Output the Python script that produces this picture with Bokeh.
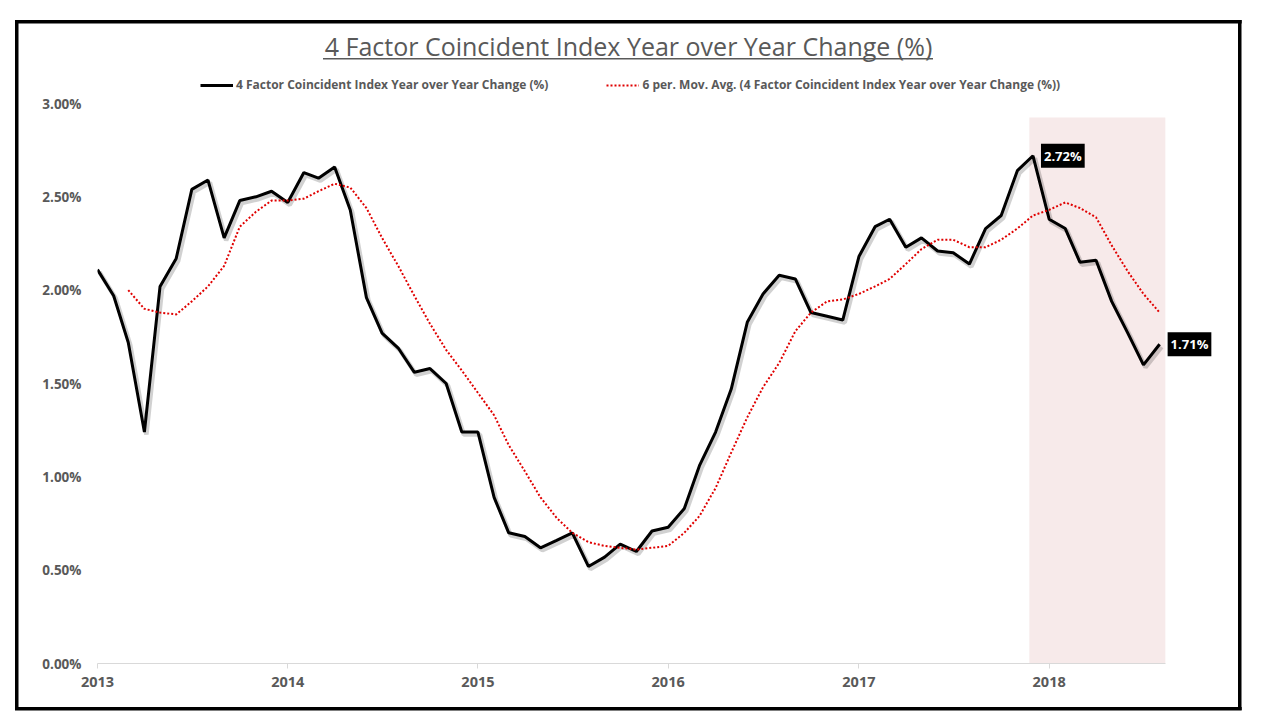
import pandas as pd
from bokeh.plotting import figure
from bokeh.models import (Range1d, DatetimeTickFormatter, FixedTicker, PrintfTickFormatter,
                          Legend, LegendItem, Label)
from bokeh.embed import file_html
from bokeh.resources import INLINE

# ---------------- data ----------------
months = pd.date_range("2013-01-01", "2018-08-01", freq="MS")

yoy = [2.11, 1.97, 1.72, 1.24, 2.02, 2.17, 2.54, 2.59, 2.28, 2.48, 2.50, 2.53,
       2.47, 2.63, 2.60, 2.66, 2.43, 1.96, 1.77, 1.69, 1.56, 1.58, 1.50, 1.24,
       1.24, 0.89, 0.70, 0.68, 0.62, 0.66, 0.70, 0.52, 0.57, 0.64, 0.60, 0.71,
       0.73, 0.83, 1.06, 1.24, 1.47, 1.83, 1.98, 2.08, 2.06, 1.88, 1.86, 1.84,
       2.18, 2.34, 2.38, 2.23, 2.28, 2.21, 2.20, 2.14, 2.33, 2.40, 2.64, 2.72,
       2.38, 2.33, 2.15, 2.16, 1.94, 1.77, 1.60, 1.71]

ma_months = months[2:]
ma6 = [2.00, 1.90, 1.88, 1.87, 1.94, 2.02, 2.13, 2.34, 2.42, 2.48,
       2.48, 2.49, 2.53, 2.57, 2.55, 2.44, 2.28, 2.13, 1.97, 1.82, 1.68, 1.57,
       1.45, 1.33, 1.17, 1.03, 0.89, 0.78, 0.70, 0.65, 0.63, 0.62, 0.61, 0.62,
       0.63, 0.70, 0.79, 0.94, 1.13, 1.32, 1.48, 1.61, 1.78, 1.88, 1.94, 1.95,
       1.98, 2.02, 2.06, 2.14, 2.22, 2.27, 2.27, 2.23, 2.23, 2.27, 2.33, 2.40,
       2.43, 2.47, 2.44, 2.39, 2.24, 2.10, 1.98, 1.88]

year_ticks = ["2013-01-01", "2014-01-01", "2015-01-01", "2016-01-01", "2017-01-01", "2018-01-01"]
y_ticks = [0.0, 0.5, 1.0, 1.5, 2.0, 2.5, 3.0]

shade_left = ["2017-11-24"]
shade_right = ["2018-08-12"]
shade_top = [2.925]
shade_bottom = [0.0]

label_points = [59, 67]   # peak (Dec 2017) and last (Aug 2018)

title_text = "4 Factor Coincident Index Year over Year Change (%)"
series_name = "4 Factor Coincident Index Year over Year Change (%)"
ma_name = "6 per. Mov. Avg. (4 Factor Coincident Index Year over Year Change (%))"

x_start = "2013-01-01"
axis_end = "2018-08-12"
x_end = "2018-12-15"     # room on the right for the end label

# ---------------- helpers ----------------
def ms(d):
    return pd.Timestamp(d).value / 1e6

FONT = "Open Sans"
GREY = "#595959"

W, H = 1248, 716
ML, MR, MT, MB = 97, 18, 25, 53
FW, FH = W - ML - MR, H - MT - MB
# 0..3% occupies the lower 560 px of the frame; the rest holds title and legend
y_top = 3.0 * FH / 560.0

x0, x1 = ms(x_start), ms(x_end)

# outer frame border + title underline painted as CSS background of the plot element
bg_layers = ["linear-gradient(#000,#000)"] * 4 + ["linear-gradient(#595959,#595959)"]
styles = {
    "background-image": ", ".join(bg_layers),
    "background-size": "3.5px 690px, 3.5px 690px, 1226.7px 3.5px, 1226.7px 3.5px, 610px 1.5px",
    "background-position": "15px 20px, 1238.2px 20px, 15px 20px, 15px 706.5px, 323px 58.3px",
    "background-repeat": "no-repeat",
    "background-color": "white",
}

p = figure(width=W, height=H, x_axis_type="datetime",
           x_range=Range1d(x0, x1), y_range=Range1d(0, y_top),
           output_backend="svg", toolbar_location=None,
           min_border_left=ML, min_border_right=MR, min_border_top=MT, min_border_bottom=MB)
p.title = None
p.styles = styles
p.outline_line_color = None
p.background_fill_alpha = 0
p.border_fill_alpha = 0
p.xgrid.visible = False
p.ygrid.visible = False

# shaded region
p.quad(left=[ms(d) for d in shade_left], right=[ms(d) for d in shade_right],
       top=shade_top, bottom=shade_bottom, fill_color="#F7EAEA", line_color=None)

# shadow ranges (a couple of pixels right/down)
mpp = (x1 - x0) / FW
vpp = y_top / FH
p.extra_x_ranges = {"sh": Range1d(x0 - 2 * mpp, x1 - 2 * mpp)}
p.extra_y_ranges = {"sh": Range1d(0 + 2.5 * vpp, y_top + 2.5 * vpp)}

mx = [ms(d) for d in months]
mmx = [ms(d) for d in ma_months]

p.line(mx, yoy, x_range_name="sh", y_range_name="sh", line_color="black",
       line_alpha=0.18, line_width=4.5)
r1 = p.line(mx, yoy, line_color="black", line_width=3)
r2 = p.line(mmx, ma6, line_color="#E00000", line_width=2, line_dash="2 2")

# axes
xa = p.xaxis[0]
xa.bounds = (ms(x_start), ms(axis_end))
xa.ticker = FixedTicker(ticks=[ms(d) for d in year_ticks])
xa.formatter = DatetimeTickFormatter(years="%Y", months="%Y", days="%Y", hours="%Y",
                                     minutes="%Y", seconds="%Y", milliseconds="%Y")
xa.axis_line_color = "#D9D9D9"
xa.axis_line_width = 1
xa.major_tick_line_color = "#D9D9D9"
xa.major_tick_out = 5
xa.major_tick_in = 0
xa.minor_tick_line_color = None
xa.major_label_text_font = FONT
xa.major_label_text_font_size = "14.5px"
xa.major_label_text_font_style = "bold"
xa.major_label_text_color = GREY
xa.major_label_standoff = 8

ya = p.yaxis[0]
ya.ticker = FixedTicker(ticks=y_ticks)
ya.formatter = PrintfTickFormatter(format="%.2f%%")
ya.axis_line_color = None
ya.major_tick_line_color = None
ya.minor_tick_line_color = None
ya.major_label_text_font = FONT
ya.major_label_text_font_size = "13.5px"
ya.major_label_text_font_style = "bold"
ya.major_label_text_color = GREY
ya.major_label_standoff = 10

# legend (inside the tall frame, above the data area)
legend = Legend(items=[LegendItem(label=series_name, renderers=[r1]),
                       LegendItem(label=ma_name, renderers=[r2])],
                orientation="horizontal", location=(103, FH - 68),
                padding=0, margin=0, spacing=58, glyph_width=33, glyph_height=14,
                label_standoff=3, label_height=14,
                label_text_font=FONT, label_text_font_size="12px",
                label_text_font_style="bold", label_text_color=GREY,
                background_fill_alpha=0, border_line_alpha=0)
p.add_layout(legend)

# title (screen units: from the frame's bottom-left, y upwards)
p.add_layout(Label(x=531, y=FH - 20.5, x_units="screen", y_units="screen",
                   text=title_text, text_align="center", text_baseline="alphabetic",
                   text_font=FONT, text_font_size="25px", text_color=GREY))

# data labels
for idx in label_points:
    p.add_layout(Label(x=mx[idx], y=yoy[idx], text=f"{yoy[idx]:.2f}%", x_offset=8,
                       text_align="left", text_baseline="middle",
                       text_font=FONT, text_font_size="13px", text_font_style="bold",
                       text_color="white", background_fill_color="black", padding=3))

open("out.html", "w").write(file_html(p, INLINE))
